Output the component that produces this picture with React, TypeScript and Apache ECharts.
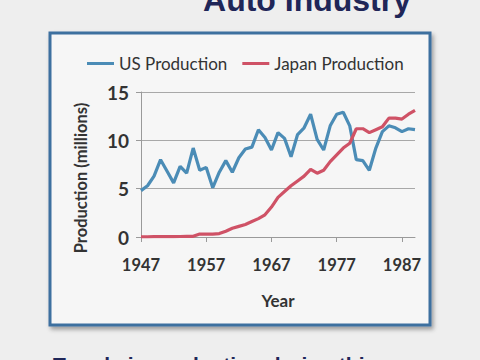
import React, { useEffect, useRef } from "react";
import * as echarts from "echarts";

const years = [
  "1947", "1948", "1949", "1950", "1951", "1952", "1953", "1954", "1955", "1956",
  "1957", "1958", "1959", "1960", "1961", "1962", "1963", "1964", "1965", "1966",
  "1967", "1968", "1969", "1970", "1971", "1972", "1973", "1974", "1975", "1976",
  "1977", "1978", "1979", "1980", "1981", "1982", "1983", "1984", "1985", "1986",
  "1987", "1988", "1989",
];

const usProduction = [
  4.8, 5.3, 6.3, 8.0, 6.8, 5.6, 7.3, 6.6, 9.2, 6.9,
  7.2, 5.1, 6.7, 7.9, 6.7, 8.2, 9.1, 9.3, 11.1, 10.3,
  9.0, 10.8, 10.2, 8.3, 10.6, 11.3, 12.7, 10.1, 9.0, 11.5,
  12.7, 12.9, 11.5, 8.0, 7.9, 6.9, 9.2, 10.9, 11.5, 11.3,
  10.9, 11.2, 11.1,
];

const japanProduction = [
  0.01, 0.02, 0.03, 0.03, 0.04, 0.04, 0.05, 0.07, 0.07, 0.3,
  0.3, 0.3, 0.35, 0.6, 0.9, 1.1, 1.3, 1.6, 1.9, 2.3,
  3.1, 4.1, 4.7, 5.3, 5.8, 6.3, 7.0, 6.6, 6.9, 7.8,
  8.5, 9.2, 9.7, 11.2, 11.2, 10.8, 11.1, 11.4, 12.3, 12.3,
  12.2, 12.7, 13.1,
];

const seriesNames = ["US Production", "Japan Production"];
const titleText = "Auto Industry";
const yAxisTitle = "Production (millions)";
const xAxisTitle = "Year";
const footerText = "Trends in production during this";

export default function App() {
  const ref = useRef<HTMLDivElement>(null);

  useEffect(() => {
    if (!ref.current) return;
    const chart = echarts.init(ref.current, undefined, { renderer: "svg" });
    const labelFont = "Lato, 'DejaVu Sans', sans-serif";
    chart.setOption({
      animation: false,
      backgroundColor: "#eeeeee",
      graphic: [
        {
          type: "rect",
          z: -10,
          shape: { x: 50, y: 33, width: 380, height: 292 },
          style: {
            fill: "#f6f6f6",
            stroke: "#3d6f9f",
            lineWidth: 3,
            shadowBlur: 4,
            shadowOffsetX: 2,
            shadowOffsetY: 3,
            shadowColor: "rgba(0,0,0,0.35)",
          },
        },
        {
          type: "text",
          x: 307,
          y: 0,
          style: {
            text: titleText,
            fill: "#1f2658",
            font: "bold 32px 'Liberation Sans', Arial, sans-serif",
            textAlign: "center",
            textVerticalAlign: "middle",
          },
        },
        {
          type: "text",
          x: 53,
          y: 364,
          style: {
            text: footerText,
            fill: "#1f2658",
            font: "bold 21px 'Liberation Sans', Arial, sans-serif",
            textAlign: "left",
            textVerticalAlign: "middle",
          },
        },
        {
          type: "text",
          x: 81,
          y: 178,
          rotation: Math.PI / 2,
          style: {
            text: yAxisTitle,
            fill: "#333333",
            font: "bold 16.5px " + labelFont,
            textAlign: "center",
            textVerticalAlign: "middle",
          },
        },
      ],
      legend: {
        data: seriesNames,
        left: 82,
        top: 50,
        icon: "rect",
        itemWidth: 27,
        itemHeight: 3,
        itemGap: 15,
        textStyle: { fontSize: 17, fontFamily: labelFont, color: "#333333" },
      },
      grid: { left: 141, right: 65, top: 92, bottom: 123, containLabel: false },
      xAxis: {
        type: "category",
        data: years,
        boundaryGap: false,
        name: xAxisTitle,
        nameLocation: "middle",
        nameGap: 55,
        nameTextStyle: { fontSize: 17, fontWeight: "bold", fontFamily: labelFont, color: "#333333" },
        axisLine: { show: true, lineStyle: { color: "#9a9a9a", width: 1 } },
        axisTick: { show: true, interval: 9, length: 5, lineStyle: { color: "#9a9a9a" } },
        axisLabel: {
          interval: 9,
          margin: 19,
          fontSize: 16.5,
          fontWeight: "bold",
          fontFamily: labelFont,
          color: "#333333",
        },
        splitLine: { show: false },
      },
      yAxis: {
        type: "value",
        min: 0,
        max: 15,
        interval: 5,
        axisLine: { show: true, lineStyle: { color: "#9a9a9a", width: 1 } },
        axisTick: { show: true, length: 5, lineStyle: { color: "#9a9a9a" } },
        axisLabel: {
          margin: 12,
          fontSize: 19,
          fontWeight: "bold",
          fontFamily: labelFont,
          color: "#333333",
        },
        splitLine: { show: true, lineStyle: { color: "#a8a8a8", width: 1 } },
      },
      series: [
        {
          name: seriesNames[0],
          type: "line",
          data: usProduction,
          symbol: "none",
          lineStyle: { color: "#4b8cb6", width: 3.2 },
          itemStyle: { color: "#4b8cb6" },
          z: 3,
        },
        {
          name: seriesNames[1],
          type: "line",
          data: japanProduction,
          symbol: "none",
          lineStyle: { color: "#cf5266", width: 3.2 },
          itemStyle: { color: "#cf5266" },
          z: 4,
        },
      ],
    });
    return () => chart.dispose();
  }, []);

  return (
    <div
      ref={ref}
      style={{ position: "fixed", left: 0, top: 0, width: 480, height: 360 }}
    />
  );
}
